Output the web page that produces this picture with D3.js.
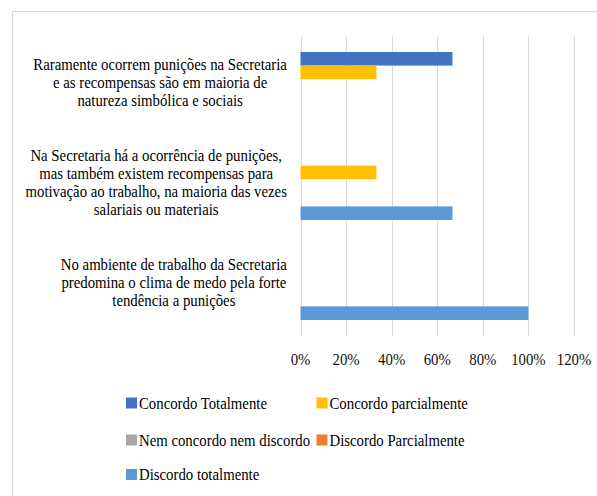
<!DOCTYPE html>
<html>
<head>
<meta charset="utf-8">
<script src="https://cdn.jsdelivr.net/npm/d3@7"></script>
<style>
  body { margin: 0; background: #fff; }
  svg { display: block; }
  .grid-line { stroke: #d9d9d9; stroke-width: 1; }
</style>
</head>
<body>
<svg id="chart"></svg>
<script>
// category labels (top to bottom), already wrapped like in the picture
let categories = [
    ["Raramente ocorrem punições na Secretaria", "e as recompensas são em maioria de", "natureza simbólica e sociais"],
    ["Na Secretaria há a ocorrência de punições,", "mas também existem recompensas para", "motivação ao trabalho, na maioria das vezes", "salariais ou materiais"],
    ["No ambiente de trabalho da Secretaria", "predomina o clima de medo pela forte", "tendência a punições"]
];

let seriesNames = ["Concordo Totalmente", "Concordo parcialmente", "Nem concordo nem discordo", "Discordo Parcialmente", "Discordo totalmente"];
let seriesColors = ["#4472C4", "#FFC000", "#A5A5A5", "#ED7D31", "#5B9BD5"];

let concordoTotalmente   = [0.6667, 0, 0];
let concordoParcialmente = [0.3333, 0.3333, 0];
let nemConcordo          = [0, 0, 0];
let discordoParcialmente = [0, 0, 0];
let discordoTotalmente   = [0, 0.6667, 1];

let xTicks = [0, 0.2, 0.4, 0.6, 0.8, 1.0, 1.2];

let width = 597;
let height = 496;
let sx = 0.87; // the text in the picture is squeezed horizontally
let fontSize = 17;
let fontFamily = "Liberation Serif";

let svg = d3.select("#chart")
    .attr("width", width)
    .attr("height", height);

// frame of the chart area (cut by the picture edge on the right and bottom)
svg.append("rect")
    .attr("x", 12.5)
    .attr("y", 11.5)
    .attr("width", 700)
    .attr("height", 700)
    .attr("fill", "none")
    .attr("stroke", "#d9d9d9");

let seriesValues = [concordoTotalmente, concordoParcialmente, nemConcordo, discordoParcialmente, discordoTotalmente];

// build rows for the bars
let rows = [];
for (let s = 0; s < seriesNames.length; s++) {
    for (let c = 0; c < categories.length; c++) {
        rows.push({ cat: c, series: s, value: seriesValues[s][c] });
    }
}

// scales
let scaleX = d3.scaleLinear()
    .domain([0, 1.2])
    .range([300.5, 574]);

let scaleY = d3.scaleBand()
    .domain(d3.range(categories.length))
    .range([36, 336])
    .paddingInner(0.32)
    .paddingOuter(0.16);

let scaleS = d3.scaleBand()
    .domain(d3.range(seriesNames.length))
    .range([0, scaleY.bandwidth()]);

// vertical grid lines
svg.append("g")
    .selectAll("line")
    .data(xTicks)
    .enter()
    .append("line")
    .classed("grid-line", true)
    .attr("x1", d => Math.round(scaleX(d)) + 0.5)
    .attr("x2", d => Math.round(scaleX(d)) + 0.5)
    .attr("y1", 36)
    .attr("y2", 336);

// tick labels of the OX axis
svg.append("g")
    .selectAll("g")
    .data(xTicks)
    .enter()
    .append("g")
    .attr("transform", d => `translate(${scaleX(d)}, 365) scale(${sx}, 1)`)
    .append("text")
    .attr("text-anchor", "middle")
    .style("font-family", fontFamily)
    .style("font-size", fontSize + "px")
    .attr("fill", "#111")
    .text(d => d3.format(".0%")(d));

// bars
svg.append("g")
    .selectAll("rect")
    .data(rows.filter(d => d.value > 0))
    .enter()
    .append("rect")
    .attr("x", scaleX(0))
    .attr("y", d => scaleY(d.cat) + scaleS(d.series))
    .attr("width", d => scaleX(d.value) - scaleX(0))
    .attr("height", scaleS.bandwidth())
    .attr("fill", d => seriesColors[d.series]);

// category labels: centered lines, block right aligned to x = 287
let lineH = 18;
categories.forEach(function (lines, c) {
    let cy = scaleY(c) + scaleY.bandwidth() / 2 - 4;
    let g = svg.append("g");
    let texts = g.selectAll("text")
        .data(lines)
        .enter()
        .append("text")
        .style("font-family", fontFamily)
        .style("font-size", fontSize + "px")
        .attr("fill", "#000")
        .attr("text-anchor", "middle")
        .text(d => d);
    let maxW = d3.max(texts.nodes(), n => n.getComputedTextLength()) * sx;
    let cx = 287 - maxW / 2;
    texts.attr("transform", (d, i) => {
        let y = cy + (i - (lines.length - 1) / 2) * lineH + 5.5;
        return `translate(${cx}, ${y}) scale(${sx}, 1)`;
    });
});

// legend
let legendPos = [
    { x: 126, y: 403 },
    { x: 316.5, y: 403 },
    { x: 126, y: 440 },
    { x: 316.5, y: 440 },
    { x: 126, y: 474.5 }
];

let legend = svg.append("g")
    .selectAll("g")
    .data(seriesNames)
    .enter()
    .append("g")
    .attr("transform", (d, i) => `translate(${legendPos[i].x}, ${legendPos[i].y})`);

legend.append("rect")
    .attr("x", 0)
    .attr("y", -5.5)
    .attr("width", 11)
    .attr("height", 11)
    .attr("fill", (d, i) => seriesColors[i]);

legend.append("g")
    .attr("transform", `translate(13, 5.5) scale(${sx}, 1)`)
    .append("text")
    .style("font-family", fontFamily)
    .style("font-size", fontSize + "px")
    .attr("fill", "#000")
    .text(d => d);
</script>
</body>
</html>
